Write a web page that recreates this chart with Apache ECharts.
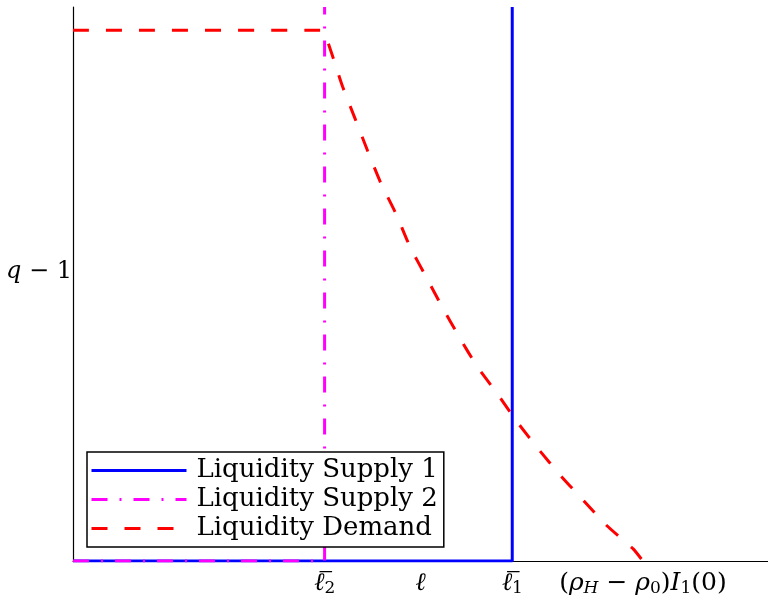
<!DOCTYPE html>
<html>
<head>
<meta charset="utf-8">
<script src="https://cdn.jsdelivr.net/npm/echarts@6/dist/echarts.min.js"></script>
<style>
  html, body { margin: 0; padding: 0; background: #fff; }
  #chart { width: 768px; height: 609px; }
</style>
</head>
<body>
<div id="chart"></div>
<script>
// key positions on the loan axis
var ell2 = 3.62;
var ell1 = 6.32;
var ellMax = 8.2;
var xTicks = [ell2, ell1, ellMax];

// supply curves: flat at zero, then vertical
var supply1 = [[0, 0], [ell1, 0], [ell1, 10]];
var supply2 = [[0, 0], [ell2, 0], [ell2, 10]];

// demand curve
var demandX = [0, 3.58, 3.63, 3.72, 3.88, 4.06, 4.24, 4.43, 4.65, 4.85, 5.08, 5.31, 5.55, 5.81, 6.10, 6.39, 6.71, 7.01, 7.34, 7.67, 8.06, 8.20];
var demandY = [9.58, 9.58, 9.49, 9.17, 8.56, 7.98, 7.40, 6.82, 6.26, 5.67, 5.13, 4.59, 4.06, 3.52, 3.03, 2.51, 2.00, 1.55, 1.10, 0.65, 0.22, 0];

var demand = demandX.map(function (x, i) { return [x, demandY[i]]; });

var serif = 'DejaVu Serif';
function mathStyles(size, subSize) {
    return {
        it: { fontFamily: serif, fontStyle: 'italic', fontSize: size, color: '#000' },
        rm: { fontFamily: serif, fontSize: size, color: '#000' },
        sub: { fontFamily: serif, fontSize: subSize, color: '#000', verticalAlign: 'bottom', padding: [11, 0, 0, 0] },
        subit: { fontFamily: serif, fontStyle: 'italic', fontSize: subSize, color: '#000', verticalAlign: 'bottom', padding: [11, 0, 0, 0] }
    };
}

var myChart = echarts.init(document.getElementById('chart'));
var option = {
    animation: false,
    backgroundColor: '#fff',
    grid: { left: 73, right: 0, top: 7, bottom: 48, containLabel: false, outerBoundsMode: 'none' },
    legend: {
        left: 87,
        top: 452,
        orient: 'vertical',
        backgroundColor: '#fff',
        borderColor: '#000',
        borderWidth: 1.5,
        padding: [4, 6, 4, 3],
        itemGap: 0,
        itemWidth: 95,
        itemHeight: 14,
        itemStyle: { color: 'rgba(0,0,0,0)', borderWidth: 0 },
        lineStyle: { width: 3 },
        textStyle: { fontFamily: serif, fontSize: 26, color: '#000', lineHeight: 29, padding: [0, 0, 0, 5] },
        data: ['Liquidity Supply 1', 'Liquidity Supply 2', 'Liquidity Demand']
    },
    xAxis: {
        type: 'value',
        min: 0,
        max: 10,
        name: '{it|ℓ}',
        nameLocation: 'middle',
        nameGap: 10,
        nameMoveOverlap: false,
        nameTextStyle: { rich: mathStyles(25, 17) },
        axisLine: { show: true, onZero: false, lineStyle: { color: '#000', width: 1.2 } },
        axisTick: { show: false },
        splitLine: { show: false },
        axisLabel: {
            customValues: xTicks,
            margin: 8,
            formatter: function (v) {
                if (Math.abs(v - ell2) < 1e-6) return '{it|ℓ\u0305}{sub|2}';
                if (Math.abs(v - ell1) < 1e-6) return '{it|ℓ\u0305}{sub|1}';
                return '{rm|(}{it|ρ}{subit|H}{rm| − }{it|ρ}{sub|0}{rm|)}{it|I}{sub|1}{rm|(0)}';
            },
            rich: mathStyles(25, 17)
        }
    },
    yAxis: {
        type: 'value',
        min: 0,
        max: 10,
        name: '{it|q}{rm| − 1}',
        nameLocation: 'middle',
        nameRotate: 0,
        nameGap: 1,
        nameMoveOverlap: false,
        nameTextStyle: { rich: mathStyles(24, 16), verticalAlign: 'bottom' },
        axisLine: { show: true, onZero: false, lineStyle: { color: '#000', width: 1.2 } },
        axisTick: { show: false },
        axisLabel: { show: false },
        splitLine: { show: false }
    },
    series: [
        {
            name: 'Liquidity Supply 1',
            type: 'line',
            data: supply1,
            showSymbol: false,
            symbol: 'none',
            lineStyle: { color: '#0000ff', width: 3 },
            itemStyle: { color: '#0000ff' }
        },
        {
            name: 'Liquidity Supply 2',
            type: 'line',
            data: supply2,
            showSymbol: false,
            symbol: 'none',
            lineStyle: { color: '#ff00ff', width: 3, type: [16, 12, 2, 12] },
            itemStyle: { color: '#ff00ff' }
        },
        {
            name: 'Liquidity Demand',
            type: 'line',
            data: demand,
            showSymbol: false,
            symbol: 'none',
            smooth: 0.2,
            lineStyle: { color: '#ff0000', width: 3, type: [16, 17] },
            itemStyle: { color: '#ff0000' }
        }
    ]
};
myChart.setOption(option);
</script>
</body>
</html>
